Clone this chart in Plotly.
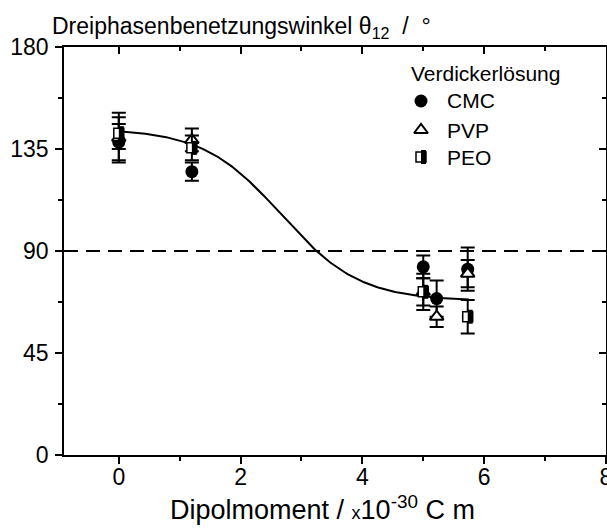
import numpy as np
import plotly.graph_objects as go

# Measured contact angles (deg) vs. dipole moment (x10^-30 C m)
x_cmc = [0.0, 1.2, 5.0, 5.22, 5.73]
y_cmc = [138.0, 125.0, 83.0, 69.0, 82.0]
e_cmc = [8.0, 4.0, 5.0, 8.0, 9.5]

x_pvp = [0.0, 1.2, 5.0, 5.22, 5.73]
y_pvp = [140.0, 139.0, 72.0, 61.0, 80.0]
e_pvp = [11.0, 5.0, 6.0, 4.5, 6.0]

x_peo = [0.0, 1.2, 5.0, 5.73]
y_peo = [142.0, 135.5, 72.0, 61.0]
e_peo = [7.0, 5.5, 8.0, 7.4]

# Boltzmann fit parameters
A1, A2, X0, DX = 144.0, 68.0, 2.67, 0.643
fit_start, fit_end = 0.0, 5.75

series_names = ["CMC", "PVP", "PEO"]
legend_title = "Verdickerlösung"

XMIN, XMAX = -0.9, 8.0
YMIN, YMAX = 0.0, 180.0

# layout geometry (px)
W, H = 607, 528
ML, MR, MT, MB = 64, 1, 47, 73
plot_w = W - ML - MR
plot_h = H - MT - MB
px_per_x = plot_w / (XMAX - XMIN)

FONT = "Liberation Sans, Arial, sans-serif"

xf = np.linspace(fit_start, fit_end, 200)
yf = A2 + (A1 - A2) / (1.0 + np.exp((xf - X0) / DX))

fig = go.Figure()

# reference line at 90 deg
fig.add_trace(go.Scatter(x=[XMIN, XMAX], y=[90, 90], mode="lines",
                         line=dict(color="black", width=2, dash="14px,8px"),
                         showlegend=False, hoverinfo="skip"))

# fitted curve
fig.add_trace(go.Scatter(x=xf, y=yf, mode="lines",
                         line=dict(color="black", width=2),
                         showlegend=False, hoverinfo="skip"))

err_style = dict(thickness=2, width=7, color="black")

fig.add_trace(go.Scatter(x=x_cmc, y=y_cmc, mode="markers", name="CMC",
                         marker=dict(symbol="circle", size=13, color="black"),
                         error_y=dict(type="data", array=e_cmc, **err_style),
                         showlegend=False))

fig.add_trace(go.Scatter(x=x_pvp, y=y_pvp, mode="markers", name="PVP",
                         marker=dict(symbol="triangle-up", size=12, color="white",
                                     line=dict(color="black", width=2)),
                         error_y=dict(type="data", array=e_pvp, **err_style),
                         showlegend=False))

# half-filled square: white square with black right half
fig.add_trace(go.Scatter(x=x_peo, y=y_peo, mode="markers", name="PEO",
                         marker=dict(symbol="square", size=10, color="white",
                                     line=dict(color="black", width=1.5)),
                         error_y=dict(type="data", array=e_peo, **err_style),
                         showlegend=False))
half_dx = 2.5 / px_per_x
fig.add_trace(go.Scatter(x=[v + half_dx for v in x_peo], y=y_peo, mode="markers",
                         marker=dict(symbol="line-ns", size=10,
                                     line=dict(color="black", width=5)),
                         showlegend=False, hoverinfo="skip"))

# mirrored top/right axes with inward ticks
fig.add_trace(go.Scatter(x=[None], y=[None], xaxis="x2", yaxis="y2",
                         showlegend=False, hoverinfo="skip"))

# legend swatches on a unit overlay axis
lg_x = (421 - ML) / plot_w
lg_y = [(H - MB - 101) / plot_h, (H - MB - 130) / plot_h, (H - MB - 157) / plot_h]
half_fx = 2.5 / plot_w
fig.add_trace(go.Scatter(x=[lg_x], y=[lg_y[0]], xaxis="x3", yaxis="y3", mode="markers",
                         marker=dict(symbol="circle", size=13, color="black"),
                         showlegend=False, hoverinfo="skip"))
fig.add_trace(go.Scatter(x=[lg_x], y=[lg_y[1]], xaxis="x3", yaxis="y3", mode="markers",
                         marker=dict(symbol="triangle-up", size=12, color="white",
                                     line=dict(color="black", width=2)),
                         showlegend=False, hoverinfo="skip"))
fig.add_trace(go.Scatter(x=[lg_x], y=[lg_y[2]], xaxis="x3", yaxis="y3", mode="markers",
                         marker=dict(symbol="square", size=10, color="white",
                                     line=dict(color="black", width=1.5)),
                         showlegend=False, hoverinfo="skip"))
fig.add_trace(go.Scatter(x=[lg_x + half_fx], y=[lg_y[2]], xaxis="x3", yaxis="y3", mode="markers",
                         marker=dict(symbol="line-ns", size=10,
                                     line=dict(color="black", width=5)),
                         showlegend=False, hoverinfo="skip"))

annotations = []
annotations.append(dict(xref="paper", yref="paper", x=(485 - ML) / plot_w,
                        y=(H - MB - 73) / plot_h, text=legend_title, showarrow=False,
                        xanchor="center", yanchor="middle",
                        font=dict(family=FONT, size=21, color="black")))
for name, yy in zip(series_names, lg_y):
    annotations.append(dict(xref="paper", yref="paper", x=(445 - ML) / plot_w, y=yy,
                            text=name, showarrow=False, xanchor="left", yanchor="middle",
                            font=dict(family=FONT, size=21, color="black")))

# axis titles
annotations.append(dict(xref="paper", yref="paper", x=(50 - ML) / plot_w, y=1.0,
                        yshift=3,
                        text="Dreiphasenbenetzungswinkel θ<sub>12</sub>&nbsp; / &nbsp;°",
                        showarrow=False, xanchor="left", yanchor="bottom",
                        font=dict(family=FONT, size=23, color="black")))
annotations.append(dict(xref="paper", yref="paper", x=(322 - ML) / plot_w, y=0,
                        yshift=-53,
                        text="Dipolmoment / <span style='font-size:18px'>x</span>10<sup>-30</sup> C m",
                        showarrow=False, xanchor="center", yanchor="middle",
                        font=dict(family=FONT, size=27, color="black")))

axis_common = dict(showgrid=False, zeroline=False, showline=True, linecolor="black",
                   linewidth=1.5, tickcolor="black", tickwidth=1.5, ticklen=7)

fig.update_layout(
    width=W, height=H,
    margin=dict(l=ML, r=MR, t=MT, b=MB, autoexpand=False),
    paper_bgcolor="white", plot_bgcolor="white",
    font=dict(family=FONT, size=23, color="black"),
    xaxis=dict(range=[XMIN, XMAX + 1e-3], tickmode="linear", tick0=0, dtick=2,
               ticks="outside", tickfont=dict(size=23), ticklabelstandoff=-6,
               ticklabeloverflow="allow",
               minor=dict(ticks="outside", dtick=1, tick0=1, ticklen=4,
                          tickcolor="black", tickwidth=1.5),
               **axis_common),
    yaxis=dict(range=[YMIN, YMAX], tickmode="linear", tick0=0, dtick=45,
               ticks="outside", tickfont=dict(size=23), ticklabelstandoff=2,
               ticklabeloverflow="allow",
               minor=dict(ticks="outside", dtick=22.5, ticklen=4,
                          tickcolor="black", tickwidth=1.5),
               **axis_common),
    xaxis2=dict(range=[XMIN, XMAX + 1e-3], overlaying="x", side="top", anchor="y",
                tickmode="linear", tick0=0, dtick=2, ticks="inside",
                showticklabels=False,
                minor=dict(ticks="inside", dtick=1, tick0=1, ticklen=4,
                           tickcolor="black", tickwidth=1.5),
                **axis_common),
    yaxis2=dict(range=[YMIN, YMAX], overlaying="y", side="right", anchor="x",
                tickmode="linear", tick0=0, dtick=45, ticks="inside",
                showticklabels=False,
                minor=dict(ticks="inside", dtick=22.5, ticklen=4,
                           tickcolor="black", tickwidth=1.5),
                **axis_common),
    xaxis3=dict(range=[0, 1], overlaying="x", visible=False, anchor="y3"),
    yaxis3=dict(range=[0, 1], overlaying="y", visible=False, anchor="x3"),
    annotations=annotations,
    showlegend=False,
)

fig.write_html("out.html")
